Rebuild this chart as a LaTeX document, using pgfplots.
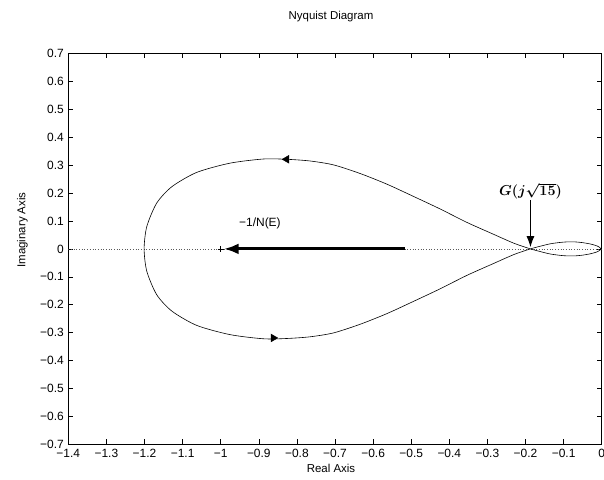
\documentclass[border=0pt]{standalone}
\usepackage{fontspec}
\setmainfont{Liberation Sans}
\usepackage{bm}
\usepackage{pgfplots}
\pgfplotsset{compat=1.18}
\usetikzlibrary{arrows.meta}

\begin{document}
\begin{tikzpicture}
\begin{axis}[
  at={(0,0)}, anchor=south west,
  scale only axis, width=533.4bp, height=390.8bp,
  xmin=-1.4, xmax=0, ymin=-0.7, ymax=0.7,
  xtick={-1.4,-1.3,-1.2,-1.1,-1,-0.9,-0.8,-0.7,-0.6,-0.5,-0.4,-0.3,-0.2,-0.1,0},
  xticklabels={−1.4,−1.3,−1.2,−1.1,−1,−0.9,−0.8,−0.7,−0.6,−0.5,−0.4,−0.3,−0.2,−0.1,0},
  ytick={-0.7,-0.6,-0.5,-0.4,-0.3,-0.2,-0.1,0,0.1,0.2,0.3,0.4,0.5,0.6,0.7},
  yticklabels={−0.7,−0.6,−0.5,−0.4,−0.3,−0.2,−0.1,0,0.1,0.2,0.3,0.4,0.5,0.6,0.7},
  tick align=inside, xtick pos=both, ytick pos=both,
  major tick length=5bp,
  tick style={black, line width=0.6pt},
  axis line style={black, line width=0.8pt},
  ticklabel style={font=\fontsize{12}{13}\selectfont},
  xticklabel style={yshift=-1bp},
  yticklabel style={xshift=-1bp},
]
% dotted real axis
\addplot[gray!70!black, dotted, line width=0.7pt] coordinates {(-1.4,0) (0,0)};

% Nyquist curve
\addplot[black, line width=0.6pt, smooth, tension=0.45] coordinates {
(-0.002,0) (-0.005,0.005) (-0.013,0.011) (-0.028,0.017) (-0.048,0.022)
(-0.070,0.025) (-0.092,0.025) (-0.110,0.023) (-0.136,0.018) (-0.160,0.010)
(-0.187,0)
(-0.230,-0.020) (-0.285,-0.053) (-0.354,-0.095) (-0.424,-0.143) (-0.494,-0.188)
(-0.564,-0.232) (-0.634,-0.270) (-0.704,-0.301) (-0.766,-0.315) (-0.827,-0.321)
(-0.888,-0.322) (-0.976,-0.307) (-1.063,-0.274) (-1.128,-0.223) (-1.168,-0.164)
(-1.194,-0.080) (-1.201,0)
(-1.194,0.080) (-1.168,0.164) (-1.128,0.223) (-1.063,0.274) (-0.976,0.307)
(-0.888,0.322) (-0.827,0.321) (-0.766,0.315) (-0.704,0.301) (-0.634,0.270)
(-0.564,0.232) (-0.494,0.188) (-0.424,0.143) (-0.354,0.095) (-0.285,0.053)
(-0.230,0.020) (-0.187,0)
(-0.160,-0.010) (-0.136,-0.018) (-0.110,-0.023) (-0.092,-0.025) (-0.070,-0.025)
(-0.048,-0.022) (-0.028,-0.017) (-0.013,-0.011) (-0.005,-0.005) (-0.002,0)
};

% direction arrows on curve
\addplot[only marks, mark=triangle*, mark size=4.5bp, mark options={rotate=90, fill=black, draw=black}] coordinates {(-0.827,0.321)};
\addplot[only marks, mark=triangle*, mark size=4.5bp, mark options={rotate=-90, fill=black, draw=black}] coordinates {(-0.862,-0.319)};

% -1/N(E) arrow
\addplot[black, line width=3bp, -{Latex[length=15bp,width=11bp]}] coordinates {(-0.515,0) (-0.992,0)};
\addplot[only marks, black, mark=+, mark size=3bp, mark options={line width=0.6pt}] coordinates {(-1,0)};

% G(j sqrt 15) arrow
\addplot[black, line width=1.1bp, -{Latex[length=11bp,width=8bp]}] coordinates {(-0.187,0.176) (-0.187,0.006)};

\node[font=\fontsize{12}{14}\selectfont] at (axis cs:-0.897,0.093) {−1/N(E)};
\node[font=\fontsize{13.5}{15}\selectfont] at (axis cs:-0.187,0.207) {$\bm{G(j\sqrt{15})}$};
\end{axis}
\node[font=\fontsize{11.5}{13}\selectfont] at (262.7bp,427.3bp) {Nyquist Diagram};
\node[font=\fontsize{11.5}{13}\selectfont] at (262.7bp,-23.7bp) {Real Axis};
\node[font=\fontsize{11.5}{13}\selectfont, rotate=90] at (-46bp,214.3bp) {Imaginary Axis};
\pgfresetboundingbox
\useasboundingbox (-68.3bp,-35.7bp) rectangle (535.7bp,444.3bp);
\end{tikzpicture}
\end{document}
